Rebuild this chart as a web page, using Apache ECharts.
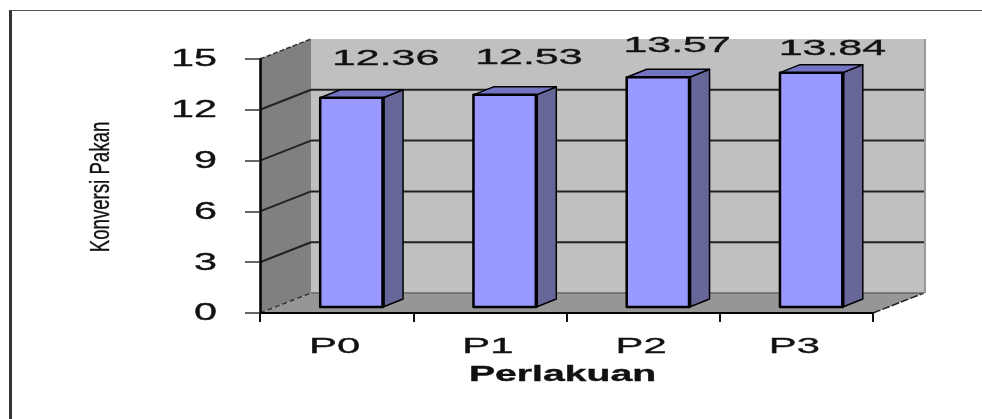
<!DOCTYPE html>
<html>
<head>
<meta charset="utf-8">
<script src="https://cdn.jsdelivr.net/npm/echarts@6/dist/echarts.min.js"></script>
<style>
  html, body { margin: 0; background: #fff; }
  #chart { width: 982px; height: 419px; filter: blur(0.5px); }
</style>
</head>
<body>
<div id="chart"></div>
<script>
const categories = ['P0', 'P1', 'P2', 'P3']
const konversiPakan = [12.36, 12.53, 13.57, 13.84]
const yTicks = [0, 3, 6, 9, 12, 15]

// label placement in the source was done by hand, so it does not follow the bars
const labelShift = [[34, -45], [24, -43], [19, -37], [21, -30]]

// 3d look: how far the back wall and the bars sit from the axis plane
const WALL_DX = 51
const WALL_DY = -20
const BAR_DX = 15
const BAR_DY = -6
const BAR_DEPTH_DX = 20
const BAR_DEPTH_DY = -8
const FONT = '"Liberation Sans", Arial, sans-serif'

const chart = echarts.init(document.getElementById('chart'))

function poly(points, fill, stroke, lineWidth) {
  return {
    type: 'polygon',
    shape: { points: points },
    style: { fill: fill, stroke: stroke || 'none', lineWidth: lineWidth || 0, lineJoin: 'round' },
  }
}

function wideText(text, x, y, size, scaleX, align, weight) {
  return {
    type: 'text',
    x: x,
    y: y,
    scaleX: scaleX,
    style: {
      text: text,
      fill: '#111',
      stroke: '#111',
      lineWidth: 0.35,
      font: (weight || 'normal') + ' ' + size + 'px ' + FONT,
      align: align || 'center',
      verticalAlign: 'middle',
    },
  }
}

function renderWalls(params, api) {
  const o = api.coord([0, 0])
  const top = api.coord([0, 15])
  const right = api.coord([3, 0])[0] + api.size([1, 0])[0] / 2
  const left = o[0] - api.size([1, 0])[0] / 2
  const y0 = o[1]
  const y1 = top[1]
  return {
    type: 'group',
    children: [
      poly([[left + WALL_DX, y1 + WALL_DY], [right + WALL_DX, y1 + WALL_DY], [right + WALL_DX, y0 + WALL_DY], [left + WALL_DX, y0 + WALL_DY]], '#c0c0c0'),
      { type: 'line', shape: { x1: right + WALL_DX + 1, y1: y1 + WALL_DY, x2: right + WALL_DX + 1, y2: y0 + WALL_DY }, style: { stroke: '#999', lineWidth: 2 } },
      poly([[left, y0], [left + WALL_DX, y0 + WALL_DY], [left + WALL_DX, y1 + WALL_DY], [left, y1]], '#808080'),
      poly([[left, y0], [right, y0], [right + WALL_DX, y0 + WALL_DY], [left + WALL_DX, y0 + WALL_DY]], '#969696'),
      { type: 'line', shape: { x1: left, y1: y1, x2: left + WALL_DX, y2: y1 + WALL_DY }, style: { stroke: '#333', lineWidth: 1.5, lineDash: [5, 2] } },
      { type: 'line', shape: { x1: left, y1: y0, x2: left + WALL_DX, y2: y0 + WALL_DY }, style: { stroke: '#333', lineWidth: 1.5, lineDash: [5, 3] } },
      { type: 'line', shape: { x1: right, y1: y0, x2: right + WALL_DX, y2: y0 + WALL_DY }, style: { stroke: '#222', lineWidth: 1.5, lineDash: [8, 2] } },
      { type: 'line', shape: { x1: left + WALL_DX, y1: y0 + WALL_DY, x2: right + WALL_DX, y2: y0 + WALL_DY }, style: { stroke: '#666', lineWidth: 1.5 } },
    ],
  }
}

function renderGridLine(params, api) {
  const v = api.value(0)
  const band = api.size([1, 0])[0]
  const y = api.coord([0, v])[1]
  const left = api.coord([0, 0])[0] - band / 2
  const right = api.coord([3, 0])[0] + band / 2
  const style = { stroke: '#222', lineWidth: 2 }
  return {
    type: 'group',
    children: [
      { type: 'line', shape: { x1: left, y1: y, x2: left + WALL_DX, y2: y + WALL_DY }, style: style },
      { type: 'line', shape: { x1: left + WALL_DX, y1: y + WALL_DY, x2: right + WALL_DX, y2: y + WALL_DY }, style: style },
    ],
  }
}

function renderBar(params, api) {
  const i = params.dataIndex
  const value = api.value(1)
  const base = api.coord([i, 0])
  const head = api.coord([i, value])
  const band = api.size([1, 0])[0]
  const w = band * 0.41
  const x0 = base[0] + BAR_DX - w / 2
  const x1 = x0 + w
  const y0 = base[1] + BAR_DY
  const y1 = head[1] + BAR_DY
  const dx = BAR_DEPTH_DX
  const dy = BAR_DEPTH_DY
  return {
    type: 'group',
    children: [
      poly([[x1, y1], [x1 + dx, y1 + dy], [x1 + dx, y0 + dy], [x1, y0]], '#666699', '#000', 1.5),
      poly([[x0, y1], [x0 + dx, y1 + dy], [x1 + dx, y1 + dy], [x1, y1]], '#7373c4', '#000', 1.5),
      poly([[x0, y1], [x1, y1], [x1, y0], [x0, y0]], '#9999ff', '#000', 2.5),
      { type: 'line', shape: { x1: x1, y1: y1, x2: x1, y2: y0 }, style: { stroke: '#000', lineWidth: 3.5 } },
      wideText(value.toFixed(2), base[0] + BAR_DX + labelShift[i][0], head[1] + labelShift[i][1], 22, 1.95),
    ],
  }
}

function renderYLabel(params, api) {
  const v = api.value(0)
  const p = api.coord([0, v])
  return wideText(String(v), p[0] - api.size([1, 0])[0] / 2 - 43, p[1] + 1, 23, 1.8, 'right')
}

function renderXLabel(params, api) {
  const p = api.coord([params.dataIndex, 0])
  return wideText(categories[params.dataIndex], p[0] - 2, p[1] + 34, 22, 1.9)
}

function renderTitles(params, api) {
  const p = api.coord([1, 0])
  const band = api.size([1, 0])[0]
  const yMid = api.coord([0, 7.5])[1]
  const xName = wideText('Perlakuan', p[0] + band / 2 - 4, p[1] + 62, 22, 1.78, 'center', 'bold')
  const yName = wideText('Konversi Pakan', 102, yMid + 1, 27, 0.69)
  yName.rotation = Math.PI / 2
  return { type: 'group', children: [xName, yName] }
}

const option = {
  animation: false,
  grid: { left: 260, right: 109, top: 59, bottom: 106 },
  xAxis: {
    type: 'category',
    data: categories,
    z: 5,
    axisLine: { lineStyle: { color: '#000', width: 2 } },
    axisTick: { show: true, length: 9, lineStyle: { color: '#111', width: 2 } },
    axisLabel: { show: false },
  },
  yAxis: {
    type: 'value',
    min: 0,
    max: 15,
    interval: 3,
    z: 5,
    axisLine: { show: true, lineStyle: { color: '#000', width: 2.5 } },
    axisTick: { show: true, length: 15, lineStyle: { color: '#333', width: 1.5 } },
    axisLabel: { show: false },
    splitLine: { show: false },
  },
  series: [
    { type: 'custom', z: 1, renderItem: renderWalls, data: [[0]], silent: true, clip: false },
    { type: 'custom', z: 2, renderItem: renderGridLine, data: yTicks.slice(1, -1).map((v) => [v]), encode: { y: 0 }, silent: true, clip: false },
    {
      type: 'custom',
      z: 3,
      name: 'Konversi Pakan',
      renderItem: renderBar,
      data: categories.map((c, i) => [c, konversiPakan[i]]),
      encode: { x: 0, y: 1 },
      clip: false,
    },
    { type: 'custom', z: 4, renderItem: renderYLabel, data: yTicks.map((v) => [v]), encode: { y: 0 }, silent: true, clip: false },
    { type: 'custom', z: 4, renderItem: renderXLabel, data: categories.map((c) => [c]), encode: { x: 0 }, silent: true, clip: false },
    { type: 'custom', z: 4, renderItem: renderTitles, data: [[0]], silent: true, clip: false },
  ],
  graphic: [
    { type: 'line', shape: { x1: 10.5, y1: 10, x2: 10.5, y2: 419 }, style: { stroke: '#333', lineWidth: 3 } },
    { type: 'line', shape: { x1: 10, y1: 10.5, x2: 982, y2: 10.5 }, style: { stroke: '#555', lineWidth: 1 } },
  ],
}

chart.setOption(option)
</script>
</body>
</html>
